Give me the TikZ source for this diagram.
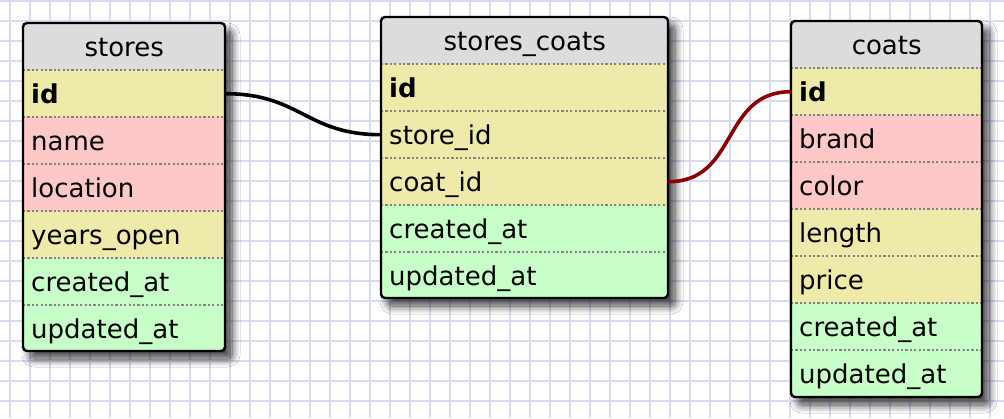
\documentclass[tikz,border=0pt]{standalone}
\usepackage{fontspec}
\setmainfont{DejaVu Sans}
\usetikzlibrary{shadows.blur}
\definecolor{gridc}{RGB}{218,218,242}
\definecolor{hdrc}{RGB}{220,220,220}
\definecolor{pkc}{RGB}{238,235,170}
\definecolor{txc}{RGB}{255,200,200}
\definecolor{tsc}{RGB}{200,255,200}
\definecolor{fkc}{RGB}{140,0,0}
\definecolor{sepc}{RGB}{130,130,130}
\tikzset{
  tblframe/.style={draw=black, line width=2.4pt, rounded corners=4pt},
  tbltext/.style={font=\fontsize{26}{30}\selectfont, text height=24pt, text depth=5pt},
  tblhdr/.style={tbltext, anchor=north west, fill=hdrc, minimum height=47pt, inner sep=0pt},
  tblrow/.style={tbltext, anchor=north west, minimum height=47pt, inner xsep=8pt, inner ysep=0pt,
    align=left},
  pkr/.style={tblrow, fill=pkc},
  txr/.style={tblrow, fill=txc},
  tsr/.style={tblrow, fill=tsc},
  sepline/.style={draw=sepc, line width=2pt, dash pattern=on 2.2pt off 2.2pt},
  link/.style={line width=3.6pt},
}
% #1 prefix, #2 x, #3 y, #4 width, #5 height, #6 title, #7 rows
\newcommand{\dbtable}[7]{%
  \path[fill=white, rounded corners=4pt,
    blur shadow={shadow xshift=7pt, shadow yshift=-8pt, shadow blur radius=8pt,
      shadow blur steps=12, shadow opacity=75}]
    (#2,#3) rectangle ++(#4,#5);
  \begin{scope}
    \clip[rounded corners=4pt] (#2,#3) rectangle ++(#4,#5);
    \node[tblhdr, minimum width=#4pt] (#1-head) at (#2,#3) {#6};
    \foreach \n/\t/\s [count=\i] in {#7} {
      \node[\s, text width=#4pt-16pt] (#1-\n) at ({#2},{#3+47*\i}) {\t};
      \draw[sepline] (#1-\n.north west) -- (#1-\n.north east);
    }
  \end{scope}
  \draw[tblframe] (#2,#3) rectangle ++(#4,#5);
}
\begin{document}
\begin{tikzpicture}[x=1pt, y=-1pt]
  \useasboundingbox (0,0) rectangle (1004,418);
  \fill[white] (0,0) rectangle (1004,418);
  \foreach \gx in {10,30,...,1000} \draw[gridc, line width=2.2pt] (\gx,0) -- (\gx,418);
  \foreach \gy in {1,21,...,418} \draw[gridc, line width=2.2pt] (0,\gy) -- (1004,\gy);

  \dbtable{st}{23}{23}{202}{328}{stores}{%
    id/\textbf{id}/pkr, name/name/txr, location/location/txr, years/years\_open/pkr,
    created/created\_at/tsr, updated/updated\_at/tsr}
  \dbtable{sc}{381}{17}{287}{281}{stores\_coats}{%
    id/\textbf{id}/pkr, store/store\_id/pkr, coat/coat\_id/pkr,
    created/created\_at/tsr, updated/updated\_at/tsr}
  \dbtable{co}{791}{21}{191}{376}{coats}{%
    id/\textbf{id}/pkr, brand/brand/txr, color/color/txr, length/length/pkr,
    price/price/pkr, created/created\_at/tsr, updated/updated\_at/tsr}

  \draw[link, black] (st-id.east) .. controls +(75,0) and +(-75,0) .. (sc-store.west);
  \draw[link, fkc] (sc-coat.east) .. controls +(70,0) and +(-70,0) .. (co-id.west);
\end{tikzpicture}
\end{document}
